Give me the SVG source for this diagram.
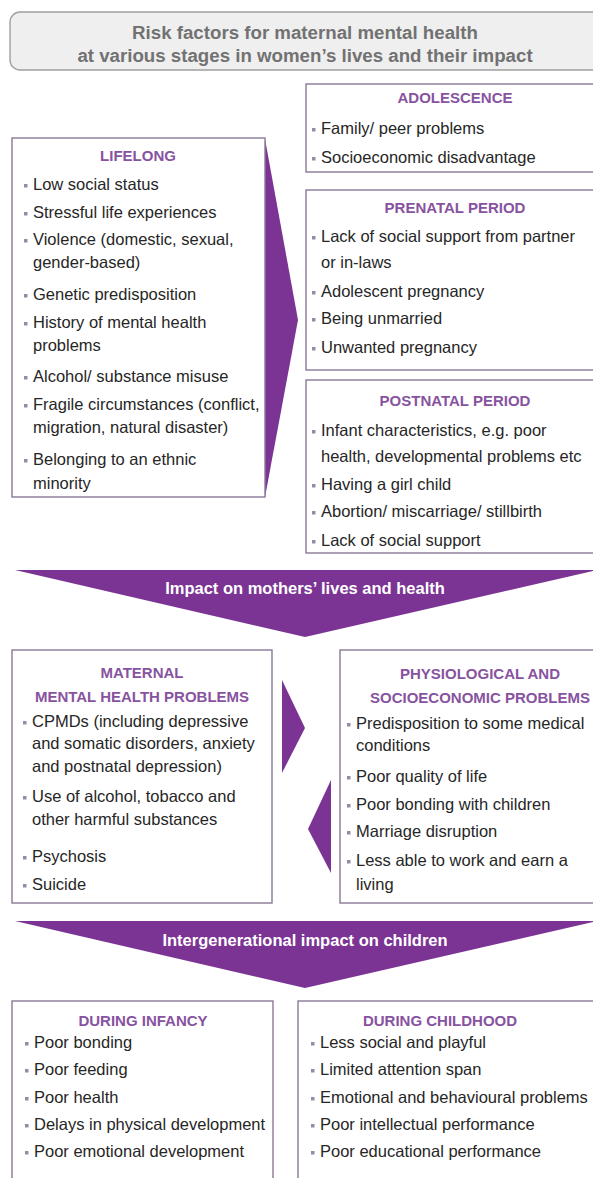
<svg xmlns="http://www.w3.org/2000/svg" xmlns:xlink="http://www.w3.org/1999/xlink" width="593" height="1178" viewBox="0 0 593 1178">
<style>
.box{fill:#ffffff;stroke:#8a7898;stroke-width:1.4}
.h{font-family:"Liberation Sans",Arial,sans-serif;font-weight:bold;font-size:15px;fill:#8753a0;text-anchor:middle}
.t{font-family:"Liberation Sans",Arial,sans-serif;font-size:16.5px;fill:#262626}
.arr{fill:#7b3494}
.bt{font-family:"Liberation Sans",Arial,sans-serif;font-weight:bold;font-size:16.5px;fill:#ffffff;text-anchor:middle}
.title{font-family:"Liberation Sans",Arial,sans-serif;font-weight:bold;font-size:18.7px;fill:#727272;text-anchor:middle}
</style>
<defs>
<rect id="b" width="3.5" height="3.5" fill="#978aa6"/>
</defs>
<rect width="593" height="1178" fill="#ffffff"/>

<g id="title">
<rect x="10" y="12" width="600" height="58" rx="10" fill="#efefef" stroke="#a0a0a0" stroke-width="1.4"/>
<text class="title" x="305" y="39">Risk factors for maternal mental health</text>
<text class="title" x="305" y="62">at various stages in women’s lives and their impact</text>
</g>

<g id="connectors">
<polygon class="arr" points="265,139 265,497 298,320"/>
<polygon class="arr" points="15,570 597,570 305,637"/>
<polygon class="arr" points="282,680 282,773 305,728"/>
<polygon class="arr" points="331,780 331,873 308,829"/>
<polygon class="arr" points="15,921 597,921 305,988"/>
<text class="bt" x="305" y="594">Impact on mothers’ lives and health</text>
<text class="bt" x="305" y="946">Intergenerational impact on children</text>
</g>

<g id="lifelong">
<rect class="box" x="12" y="138" width="253" height="359"/>
<text class="h" x="138" y="161">LIFELONG</text>
<use xlink:href="#b" x="24" y="184"/><text class="t" x="33" y="190">Low social status</text>
<use xlink:href="#b" x="24" y="212"/><text class="t" x="33" y="218">Stressful life experiences</text>
<use xlink:href="#b" x="24" y="239"/><text class="t" x="33" y="245">Violence (domestic, sexual,</text>
<text class="t" x="33" y="268">gender-based)</text>
<use xlink:href="#b" x="24" y="294"/><text class="t" x="33" y="300">Genetic predisposition</text>
<use xlink:href="#b" x="24" y="322"/><text class="t" x="33" y="328">History of mental health</text>
<text class="t" x="33" y="351">problems</text>
<use xlink:href="#b" x="24" y="376"/><text class="t" x="33" y="382">Alcohol/ substance misuse</text>
<use xlink:href="#b" x="24" y="404"/><text class="t" x="33" y="410">Fragile circumstances (conflict,</text>
<text class="t" x="33" y="433">migration, natural disaster)</text>
<use xlink:href="#b" x="24" y="459"/><text class="t" x="33" y="465">Belonging to an ethnic</text>
<text class="t" x="33" y="489">minority</text>
</g>

<g id="adolescence">
<rect class="box" x="306" y="84" width="300" height="88"/>
<text class="h" x="455" y="103">ADOLESCENCE</text>
<use xlink:href="#b" x="312" y="128"/><text class="t" x="321" y="134">Family/ peer problems</text>
<use xlink:href="#b" x="312" y="157"/><text class="t" x="321" y="163">Socioeconomic disadvantage</text>
</g>

<g id="prenatal">
<rect class="box" x="306" y="190" width="300" height="180"/>
<text class="h" x="455" y="213">PRENATAL PERIOD</text>
<use xlink:href="#b" x="312" y="236"/><text class="t" x="321" y="242">Lack of social support from partner</text>
<text class="t" x="321" y="268">or in-laws</text>
<use xlink:href="#b" x="312" y="291"/><text class="t" x="321" y="297">Adolescent pregnancy</text>
<use xlink:href="#b" x="312" y="318"/><text class="t" x="321" y="324">Being unmarried</text>
<use xlink:href="#b" x="312" y="347"/><text class="t" x="321" y="353">Unwanted pregnancy</text>
</g>

<g id="postnatal">
<rect class="box" x="306" y="380" width="300" height="173"/>
<text class="h" x="455" y="406">POSTNATAL PERIOD</text>
<use xlink:href="#b" x="312" y="430"/><text class="t" x="321" y="436">Infant characteristics, e.g. poor</text>
<text class="t" x="321" y="462">health, developmental problems etc</text>
<use xlink:href="#b" x="312" y="484"/><text class="t" x="321" y="490">Having a girl child</text>
<use xlink:href="#b" x="312" y="511"/><text class="t" x="321" y="517">Abortion/ miscarriage/ stillbirth</text>
<use xlink:href="#b" x="312" y="540"/><text class="t" x="321" y="546">Lack of social support</text>
</g>

<g id="maternal">
<rect class="box" x="12" y="650" width="260" height="253"/>
<text class="h" x="142" y="678">MATERNAL</text>
<text class="h" x="142" y="702">MENTAL HEALTH PROBLEMS</text>
<use xlink:href="#b" x="23" y="721"/><text class="t" x="32" y="727">CPMDs (including depressive</text>
<text class="t" x="32" y="749">and somatic disorders, anxiety</text>
<text class="t" x="32" y="772">and postnatal depression)</text>
<use xlink:href="#b" x="23" y="796"/><text class="t" x="32" y="802">Use of alcohol, tobacco and</text>
<text class="t" x="32" y="825">other harmful substances</text>
<use xlink:href="#b" x="23" y="856"/><text class="t" x="32" y="862">Psychosis</text>
<use xlink:href="#b" x="23" y="884"/><text class="t" x="32" y="890">Suicide</text>
</g>

<g id="physiological">
<rect class="box" x="340" y="650" width="270" height="253"/>
<text class="h" x="480" y="679">PHYSIOLOGICAL AND</text>
<text class="h" x="480" y="703">SOCIOECONOMIC PROBLEMS</text>
<use xlink:href="#b" x="347" y="723"/><text class="t" x="356" y="729">Predisposition to some medical</text>
<text class="t" x="356" y="751">conditions</text>
<use xlink:href="#b" x="347" y="776"/><text class="t" x="356" y="782">Poor quality of life</text>
<use xlink:href="#b" x="347" y="804"/><text class="t" x="356" y="810">Poor bonding with children</text>
<use xlink:href="#b" x="347" y="831"/><text class="t" x="356" y="837">Marriage disruption</text>
<use xlink:href="#b" x="347" y="860"/><text class="t" x="356" y="866">Less able to work and earn a</text>
<text class="t" x="356" y="890">living</text>
</g>

<g id="infancy">
<rect class="box" x="12" y="1001" width="261" height="190"/>
<text class="h" x="143" y="1026">DURING INFANCY</text>
<use xlink:href="#b" x="25" y="1042"/><text class="t" x="34" y="1048">Poor bonding</text>
<use xlink:href="#b" x="25" y="1069"/><text class="t" x="34" y="1075">Poor feeding</text>
<use xlink:href="#b" x="25" y="1097"/><text class="t" x="34" y="1103">Poor health</text>
<use xlink:href="#b" x="25" y="1124"/><text class="t" x="34" y="1130">Delays in physical development</text>
<use xlink:href="#b" x="25" y="1151"/><text class="t" x="34" y="1157">Poor emotional development</text>
</g>

<g id="childhood">
<rect class="box" x="298" y="1001" width="310" height="190"/>
<text class="h" x="440" y="1026">DURING CHILDHOOD</text>
<use xlink:href="#b" x="311" y="1042"/><text class="t" x="320" y="1048">Less social and playful</text>
<use xlink:href="#b" x="311" y="1069"/><text class="t" x="320" y="1075">Limited attention span</text>
<use xlink:href="#b" x="311" y="1097"/><text class="t" x="320" y="1103">Emotional and behavioural problems</text>
<use xlink:href="#b" x="311" y="1124"/><text class="t" x="320" y="1130">Poor intellectual performance</text>
<use xlink:href="#b" x="311" y="1151"/><text class="t" x="320" y="1157">Poor educational performance</text>
</g>
</svg>
